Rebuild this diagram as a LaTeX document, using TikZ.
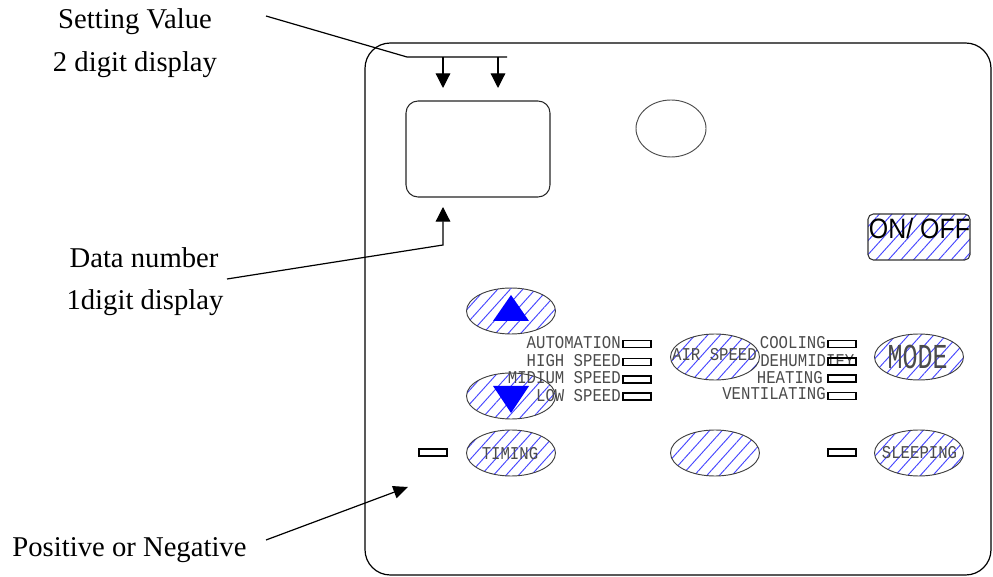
\documentclass[tikz,border=0pt]{standalone}
\usepackage{graphicx}
\usepackage{fontspec}
\setmainfont{Liberation Serif}
\newfontfamily\monof{Liberation Mono}
\newfontfamily\sansf{Liberation Sans}
\usetikzlibrary{shapes.geometric,patterns.meta,arrows.meta}
\definecolor{hatch}{RGB}{70,70,255}
\definecolor{lbl}{RGB}{75,75,75}
\newcommand{\tallt}[2]{\scalebox{1}[#1]{#2}}
\begin{document}
\begin{tikzpicture}[x=0.75pt,y=-0.75pt,
  btn/.style={ellipse,draw=black!75,line width=0.7pt,minimum width=66.75pt,minimum height=34.5pt,inner sep=0pt,
    pattern={Lines[angle=48,distance=7pt,line width=0.7pt]},pattern color=hatch},
  led/.style={rectangle,draw=black,line width=0.8pt,minimum width=21pt,minimum height=5.25pt,inner sep=0pt},
  mono/.style={font=\monof\fontsize{11.75}{12}\selectfont,text=lbl,inner sep=0pt},
  callout/.style={font=\fontsize{21.5}{24}\selectfont,inner sep=0pt,anchor=base},
  lead/.style={line width=0.9pt},
  tipa/.style={-{Triangle[length=11pt,width=11pt]}},
  tipb/.style={-{Triangle[length=11pt,width=9.5pt]}}
]
\fill[white] (0,0) rectangle (993,577);
\useasboundingbox (0,0) rectangle (993,577);

% panel
\draw[line width=0.9pt,rounded corners=19pt] (365,43) rectangle (991,575);

% display and indicator circle
\node[draw=black!85,line width=0.8pt,rounded corners=9pt,minimum width=108pt,minimum height=72pt,inner sep=0pt] (disp) at (478,149) {};
\node[ellipse,draw=black!70,line width=0.7pt,minimum width=52.5pt,minimum height=42.75pt,inner sep=0pt] (lamp) at (671,128.5) {};

% callout texts
\node[callout] (sv1) at (135,29) {Setting Value};
\node[callout] (sv2) at (135,72) {2 digit display};
\node[callout] (dn1) at (144,268) {Data number};
\node[callout] (dn2) at (145,310) {1digit display};
\node[callout] (pn) at (129.5,556) {Positive or Negative};

% leader lines
\coordinate (c1) at (266,16);
\coordinate (k1) at (407,57);
\coordinate (k2) at (507,57);
\coordinate (a1s) at (443,57);
\coordinate (a1e) at (443,88);
\coordinate (a2s) at (498,57);
\coordinate (a2e) at (498,88);
\draw[lead] (c1) -- (k1) -- (k2);
\draw[lead,tipa] (a1s) -- (a1e);
\draw[lead,tipa] (a2s) -- (a2e);

\coordinate (c2) at (227,279);
\coordinate (k3) at (443,245);
\coordinate (a3e) at (443,207);
\draw[lead,tipa] (c2) -- (k3) -- (a3e);

\coordinate (c3) at (266,540);
\coordinate (a4e) at (408,487);
\draw[lead,tipb] (c3) -- (a4e);

% ON/OFF button
\node[draw=black!80,line width=0.8pt,rounded corners=4pt,minimum width=76.5pt,minimum height=34.5pt,inner sep=0pt,
  pattern={Lines[angle=48,distance=7pt,line width=0.7pt]},pattern color=hatch] (onoff) at (919,237) {};
\node[font=\sansf\fontsize{21}{21}\selectfont,anchor=base,inner sep=0pt] (onofft) at (919.5,239) {\scalebox{0.89}[1]{ON/ OFF}};

% round buttons
\node[btn] (up) at (511,311) {};
\node[btn] (down) at (511,396) {};
\node[btn] (timing) at (511,453) {};
\node[btn] (air) at (715,357) {};
\node[btn] (mode) at (919,357) {};
\node[btn] (blank) at (715,453) {};
\node[btn] (sleep) at (919,453) {};

% arrows on up/down
\fill[blue] (493,321) -- (529,321) -- (511,295) -- cycle;
\fill[blue] (493,386) -- (529,386) -- (511,413) -- cycle;

% button labels
\node[mono] (timingt) at (510,454) {\tallt{1.15}{TIMING}};
\node[mono] (airt) at (714.5,355) {\tallt{1.15}{AIR SPEED}};
\node[mono] (sleept) at (919.5,453) {\tallt{1.15}{SLEEPING}};
\node[mono,font=\monof\fontsize{18.75}{19}\selectfont] (modet) at (917.5,357) {\tallt{1.4}{MODE}};

% speed labels and LEDs
\node[mono,anchor=east] (l1) at (621,343) {\tallt{1.15}{AUTOMATION}};
\node[mono,anchor=east] (l2) at (621,361) {\tallt{1.15}{HIGH SPEED}};
\node[mono,anchor=east] (l3) at (621,378) {\tallt{1.15}{MIDIUM SPEED}};
\node[mono,anchor=east] (l4) at (621,396) {\tallt{1.15}{LOW SPEED}};
\node[led] (s1) at (637,344) {};
\node[led] (s2) at (637,362) {};
\node[led] (s3) at (637,379.5) {};
\node[led] (s4) at (637,396.5) {};

% mode labels and LEDs
\node[mono,anchor=east] (m1) at (826,343) {\tallt{1.15}{COOLING}};
\node[mono,anchor=west] (m2) at (760,361) {\tallt{1.15}{DEHUMIDIFY}};
\node[mono,anchor=east] (m3) at (823,377.5) {\tallt{1.15}{HEATING}};
\node[mono,anchor=east] (m4) at (826,394) {\tallt{1.15}{VENTILATING}};
\node[led] (r1) at (842,344) {};
\node[led] (r2) at (842,361.5) {};
\node[led] (r3) at (842,378.5) {};
\node[led] (r4) at (842,396) {};

% bottom LEDs
\node[led] (b1) at (433,452.5) {};
\node[led] (b2) at (842,452.5) {};
\end{tikzpicture}
\end{document}
